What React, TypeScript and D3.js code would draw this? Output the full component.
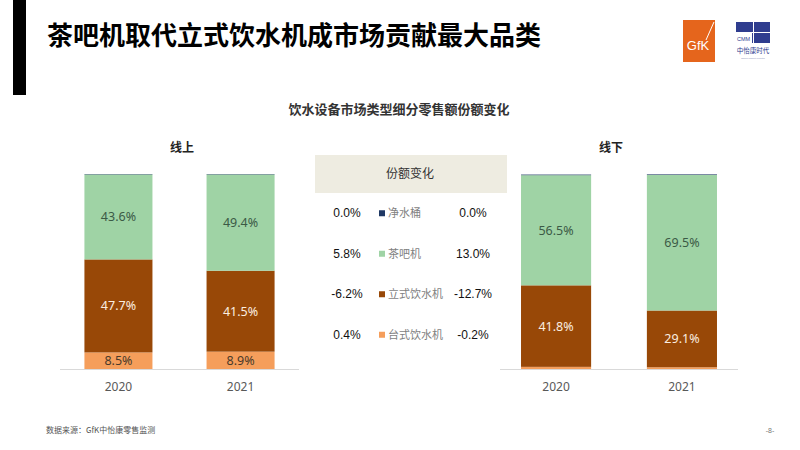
import React from 'react';
import * as d3 from 'd3';

// 系列（自下而上）
const seriesNames = ['台式饮水机', '立式饮水机', '茶吧机', '净水桶'];
const seriesColors = ['#f59e5b', '#984807', '#9fd3a5', '#1f3864'];
const years = ['2020', '2021'];

// 线上
const onlineTaishi = [8.5, 8.9];
const onlineLishi = [47.7, 41.5];
const onlineChaba = [43.6, 49.4];
const onlineJingshui = [0.2, 0.2];

// 线下
const offlineTaishi = [1.1, 0.9];
const offlineLishi = [41.8, 29.1];
const offlineChaba = [56.5, 69.5];
const offlineJingshui = [0.3, 0.3];

// 份额变化表 (top to bottom)
const tableNames = ['净水桶', '茶吧机', '立式饮水机', '台式饮水机'];
const tableColors = ['#1f3864', '#9fd3a5', '#984807', '#f59e5b'];
const onlineChange = ['0.0%', '5.8%', '-6.2%', '0.4%'];
const offlineChange = ['0.0%', '13.0%', '-12.7%', '-0.2%'];

const CJK = '"Noto Sans CJK SC", "Noto Sans", sans-serif';
const NUM = '"Liberation Sans", Arial, sans-serif';

const labelColor = (i: number) => (i === 1 ? '#fbeee0' : i === 2 ? '#3b5a45' : '#4a3a2a');

interface PanelProps {
  title: string;
  titleX: number;
  range: [number, number];
  outer: number;
  cols: number[][];
}

const Panel: React.FC<PanelProps> = ({ title, titleX, range, outer, cols }) => {
  const rows = years.map((y, i) => {
    const r: Record<string, number | string> = { year: y };
    seriesNames.forEach((s, k) => (r[s] = cols[k][i]));
    return r;
  });
  const stack = d3.stack<Record<string, number | string>>().keys(seriesNames)(rows as any);
  const x = d3.scaleBand().domain(years).range(range).paddingInner(0.443).paddingOuter(outer);
  const y = d3.scaleLinear().domain([0, 100]).range([369, 174]);

  return (
    <g>
      <text x={titleX} y={152} textAnchor="middle" fontFamily={CJK} fontWeight="bold" fontSize={12} fill="#222">
        {title}
      </text>
      {stack.map((layer, k) => (
        <g key={seriesNames[k]}>
          {layer.map((d, i) => (
            <rect
              key={i}
              x={x(years[i])!}
              y={y(d[1])}
              width={x.bandwidth()}
              height={Math.max(0, y(d[0]) - y(d[1]))}
              fill={seriesColors[k]}
            />
          ))}
          {layer.map((d, i) =>
            d[1] - d[0] > 5 ? (
              <text
                key={'t' + i}
                x={x(years[i])! + x.bandwidth() / 2}
                y={(y(d[0]) + y(d[1])) / 2 + 4.5}
                textAnchor="middle"
                fontFamily='"Noto Sans", sans-serif'
                fontSize={12.5}
                fill={labelColor(k)}
              >
                {(d[1] - d[0]).toFixed(1)}%
              </text>
            ) : null
          )}
        </g>
      ))}
      <line x1={range[0]} x2={range[1]} y1={369.5} y2={369.5} stroke="#d9d9d9" strokeWidth={1} />
      {years.map((yr) => (
        <text
          key={yr}
          x={x(yr)! + x.bandwidth() / 2}
          y={391}
          textAnchor="middle"
          fontFamily='"Noto Sans", sans-serif'
          fontSize={12}
          fill="#595959"
        >
          {yr}
        </text>
      ))}
    </g>
  );
};

export default function App() {
  const rowY = d3.scaleBand().domain(tableNames).range([193, 355]).padding(0);

  return (
    <svg width={800} height={450} style={{ position: 'absolute', left: 0, top: 0, background: '#fff' }}>
      <rect x={0} y={0} width={800} height={450} fill="#fff" />
      {/* left black bar */}
      <rect x={13} y={0} width={13} height={95} fill="#000" />
      <text x={47} y={45} fontFamily={CJK} fontWeight="bold" fontSize={26} fill="#000">
        茶吧机取代立式饮水机成市场贡献最大品类
      </text>

      {/* logos */}
      <rect x={683} y={20} width={32} height={42} fill="#e5651c" />
      <line x1={706} y1={40} x2={714} y2={22} stroke="#fff" strokeWidth={1} />
      <text x={698} y={50} textAnchor="middle" fontFamily='"Liberation Sans", sans-serif' fontSize={13} fill="#fff">
        GfK
      </text>
      <rect x={736} y={22} width={34} height={21} fill="#2f3d8f" />
      <rect x={736} y={33} width={16} height={10} fill="#fff" />
      <rect x={753} y={22} width={1} height={21} fill="#fff" />
      <rect x={736} y={32} width={34} height={1} fill="#fff" />
      <text x={737} y={41} fontFamily={NUM} fontSize={5.5} fill="#2f3d8f">CMM</text>
      <text x={753} y={53} textAnchor="middle" fontFamily={CJK} fontSize={6.5} fill="#2f3d8f">中怡康时代</text>
      <text x={753} y={59} textAnchor="middle" fontFamily={NUM} fontSize={2.5} fill="#8890b8">China Market Monitor</text>

      {/* subtitle */}
      <text x={399} y={114} textAnchor="middle" fontFamily={CJK} fontWeight="bold" fontSize={13} fill="#333">
        饮水设备市场类型细分零售额份额变化
      </text>

      <Panel
        title="线上"
        titleX={182}
        range={[60, 299]}
        outer={0.2}
        cols={[onlineTaishi, onlineLishi, onlineChaba, onlineJingshui]}
      />
      <Panel
        title="线下"
        titleX={611}
        range={[500, 738]}
        outer={0.167}
        cols={[offlineTaishi, offlineLishi, offlineChaba, offlineJingshui]}
      />

      {/* table */}
      <rect x={315} y={155} width={192} height={38} fill="#eeece1" />
      <text x={410} y={178} textAnchor="middle" fontFamily={CJK} fontSize={12} fill="#333">
        份额变化
      </text>
      {tableNames.map((n, i) => {
        const cy = rowY(n)! + rowY.bandwidth() / 2;
        return (
          <g key={n}>
            <text x={347} y={cy + 4} textAnchor="middle" fontFamily={NUM} fontSize={12} fill="#111">
              {onlineChange[i]}
            </text>
            <rect x={379} y={cy - 3} width={6} height={6} fill={tableColors[i]} />
            <text x={388} y={cy + 4} fontFamily={CJK} fontSize={11} fill="#7f7f7f">
              {n}
            </text>
            <text x={473} y={cy + 4} textAnchor="middle" fontFamily={NUM} fontSize={12} fill="#111">
              {offlineChange[i]}
            </text>
          </g>
        );
      })}

      {/* footer */}
      <text x={46} y={433} fontFamily={CJK} fontSize={8} fill="#555">
        数据来源：GfK中怡康零售监测
      </text>
      <text x={770} y={433} textAnchor="middle" fontFamily={NUM} fontSize={7} fill="#777">
        -8-
      </text>
    </svg>
  );
}
